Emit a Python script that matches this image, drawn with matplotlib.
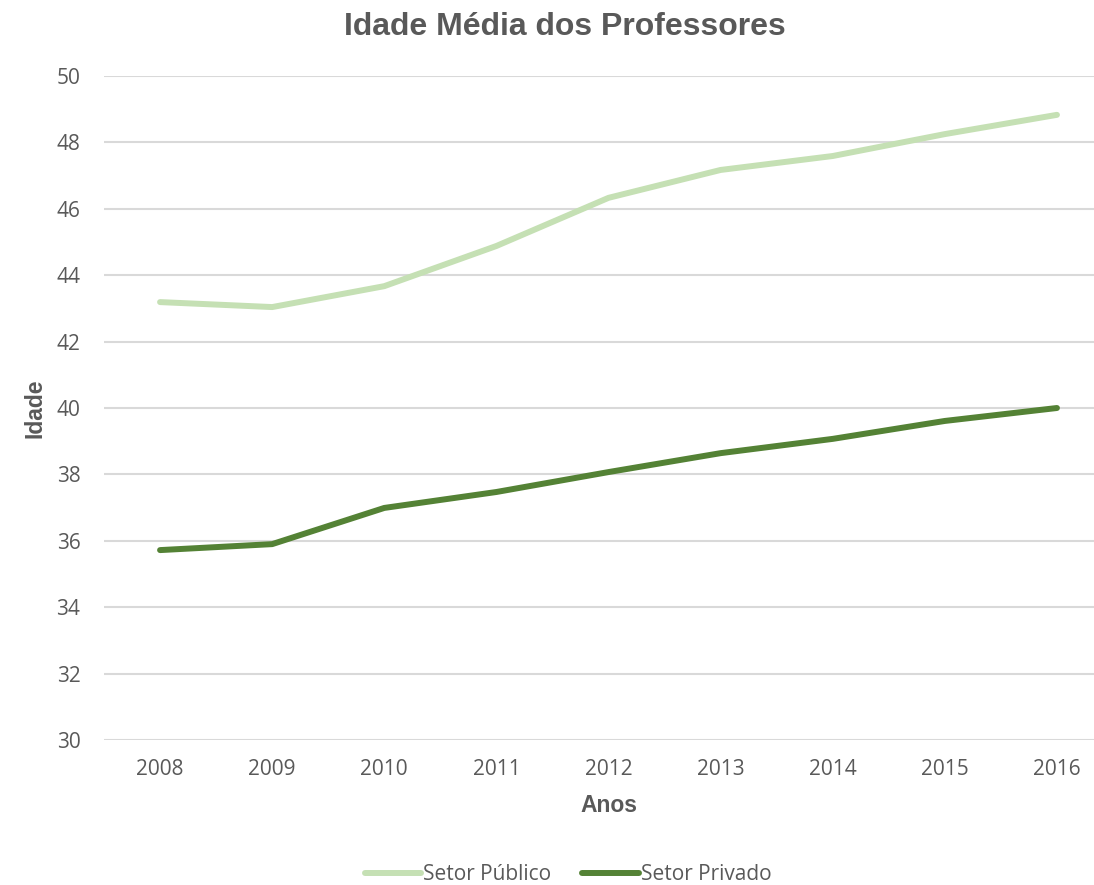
import matplotlib
matplotlib.use("Agg")
import matplotlib.pyplot as plt

anos = ['2008', '2009', '2010', '2011', '2012', '2013', '2014', '2015', '2016']
setor_publico = [43.19, 43.04, 43.67, 44.88, 46.33, 47.17, 47.59, 48.25, 48.83]
setor_privado = [35.72, 35.90, 36.99, 37.47, 38.07, 38.64, 39.07, 39.61, 40.00]
yticks = [30, 32, 34, 36, 38, 40, 42, 44, 46, 48, 50]

grey = '#595959'
tick_font = ['Open Sans', 'DejaVu Sans']
bold_font = ['Liberation Sans', 'DejaVu Sans']

fig = plt.figure(figsize=(10.94, 8.85), dpi=100)
ax = fig.add_axes([104/1094, 1 - 740/885, 1009/1094, 664/885])

x = list(range(len(anos)))
ax.plot(x, setor_publico, color='#c5e0b4', lw=4.3, solid_capstyle='round', label='Setor Público')
ax.plot(x, setor_privado, color='#548235', lw=4.3, solid_capstyle='round', label='Setor Privado')

ax.set_xlim(-0.5, len(anos) - 0.5)
ax.set_ylim(30, 50)
ax.set_yticks(yticks)
ax.set_xticks(x)
ax.set_xticklabels(anos)
ax.grid(axis='y', color='#d9d9d9', lw=1.5)
ax.set_axisbelow(True)
for s in ax.spines.values():
    s.set_visible(False)
ax.tick_params(length=0, labelcolor=grey, labelsize=15)
ax.tick_params(axis='y', pad=17)
ax.tick_params(axis='x', pad=14)
for lab in ax.get_xticklabels() + ax.get_yticklabels():
    lab.set_family(tick_font)

xl = ax.set_xlabel('Anos', fontsize=16.5, fontweight='bold', color=grey, family=bold_font)
yl = ax.set_ylabel('Idade', fontsize=16.5, fontweight='bold', color=grey, family=bold_font)
xl.set_verticalalignment('center')
yl.set_verticalalignment('center')
ax.xaxis.set_label_coords(0.5, (740 - 806) / 664)
ax.yaxis.set_label_coords((35 - 104) / 1009, 0.5)

fig.text(565/1094, 1 - 27/885, 'Idade Média dos Professores', ha='center', va='center',
         fontsize=23, fontweight='bold', color=grey, family=bold_font)

leg = fig.legend(loc='center', bbox_to_anchor=(568/1094, 1 - 875/885), ncol=2, frameon=False,
                 prop={'family': tick_font, 'size': 15}, handlelength=2.7, handletextpad=0.1,
                 columnspacing=1.5)
for t in leg.get_texts():
    t.set_color(grey)

plt.savefig('out.png', dpi=100)
